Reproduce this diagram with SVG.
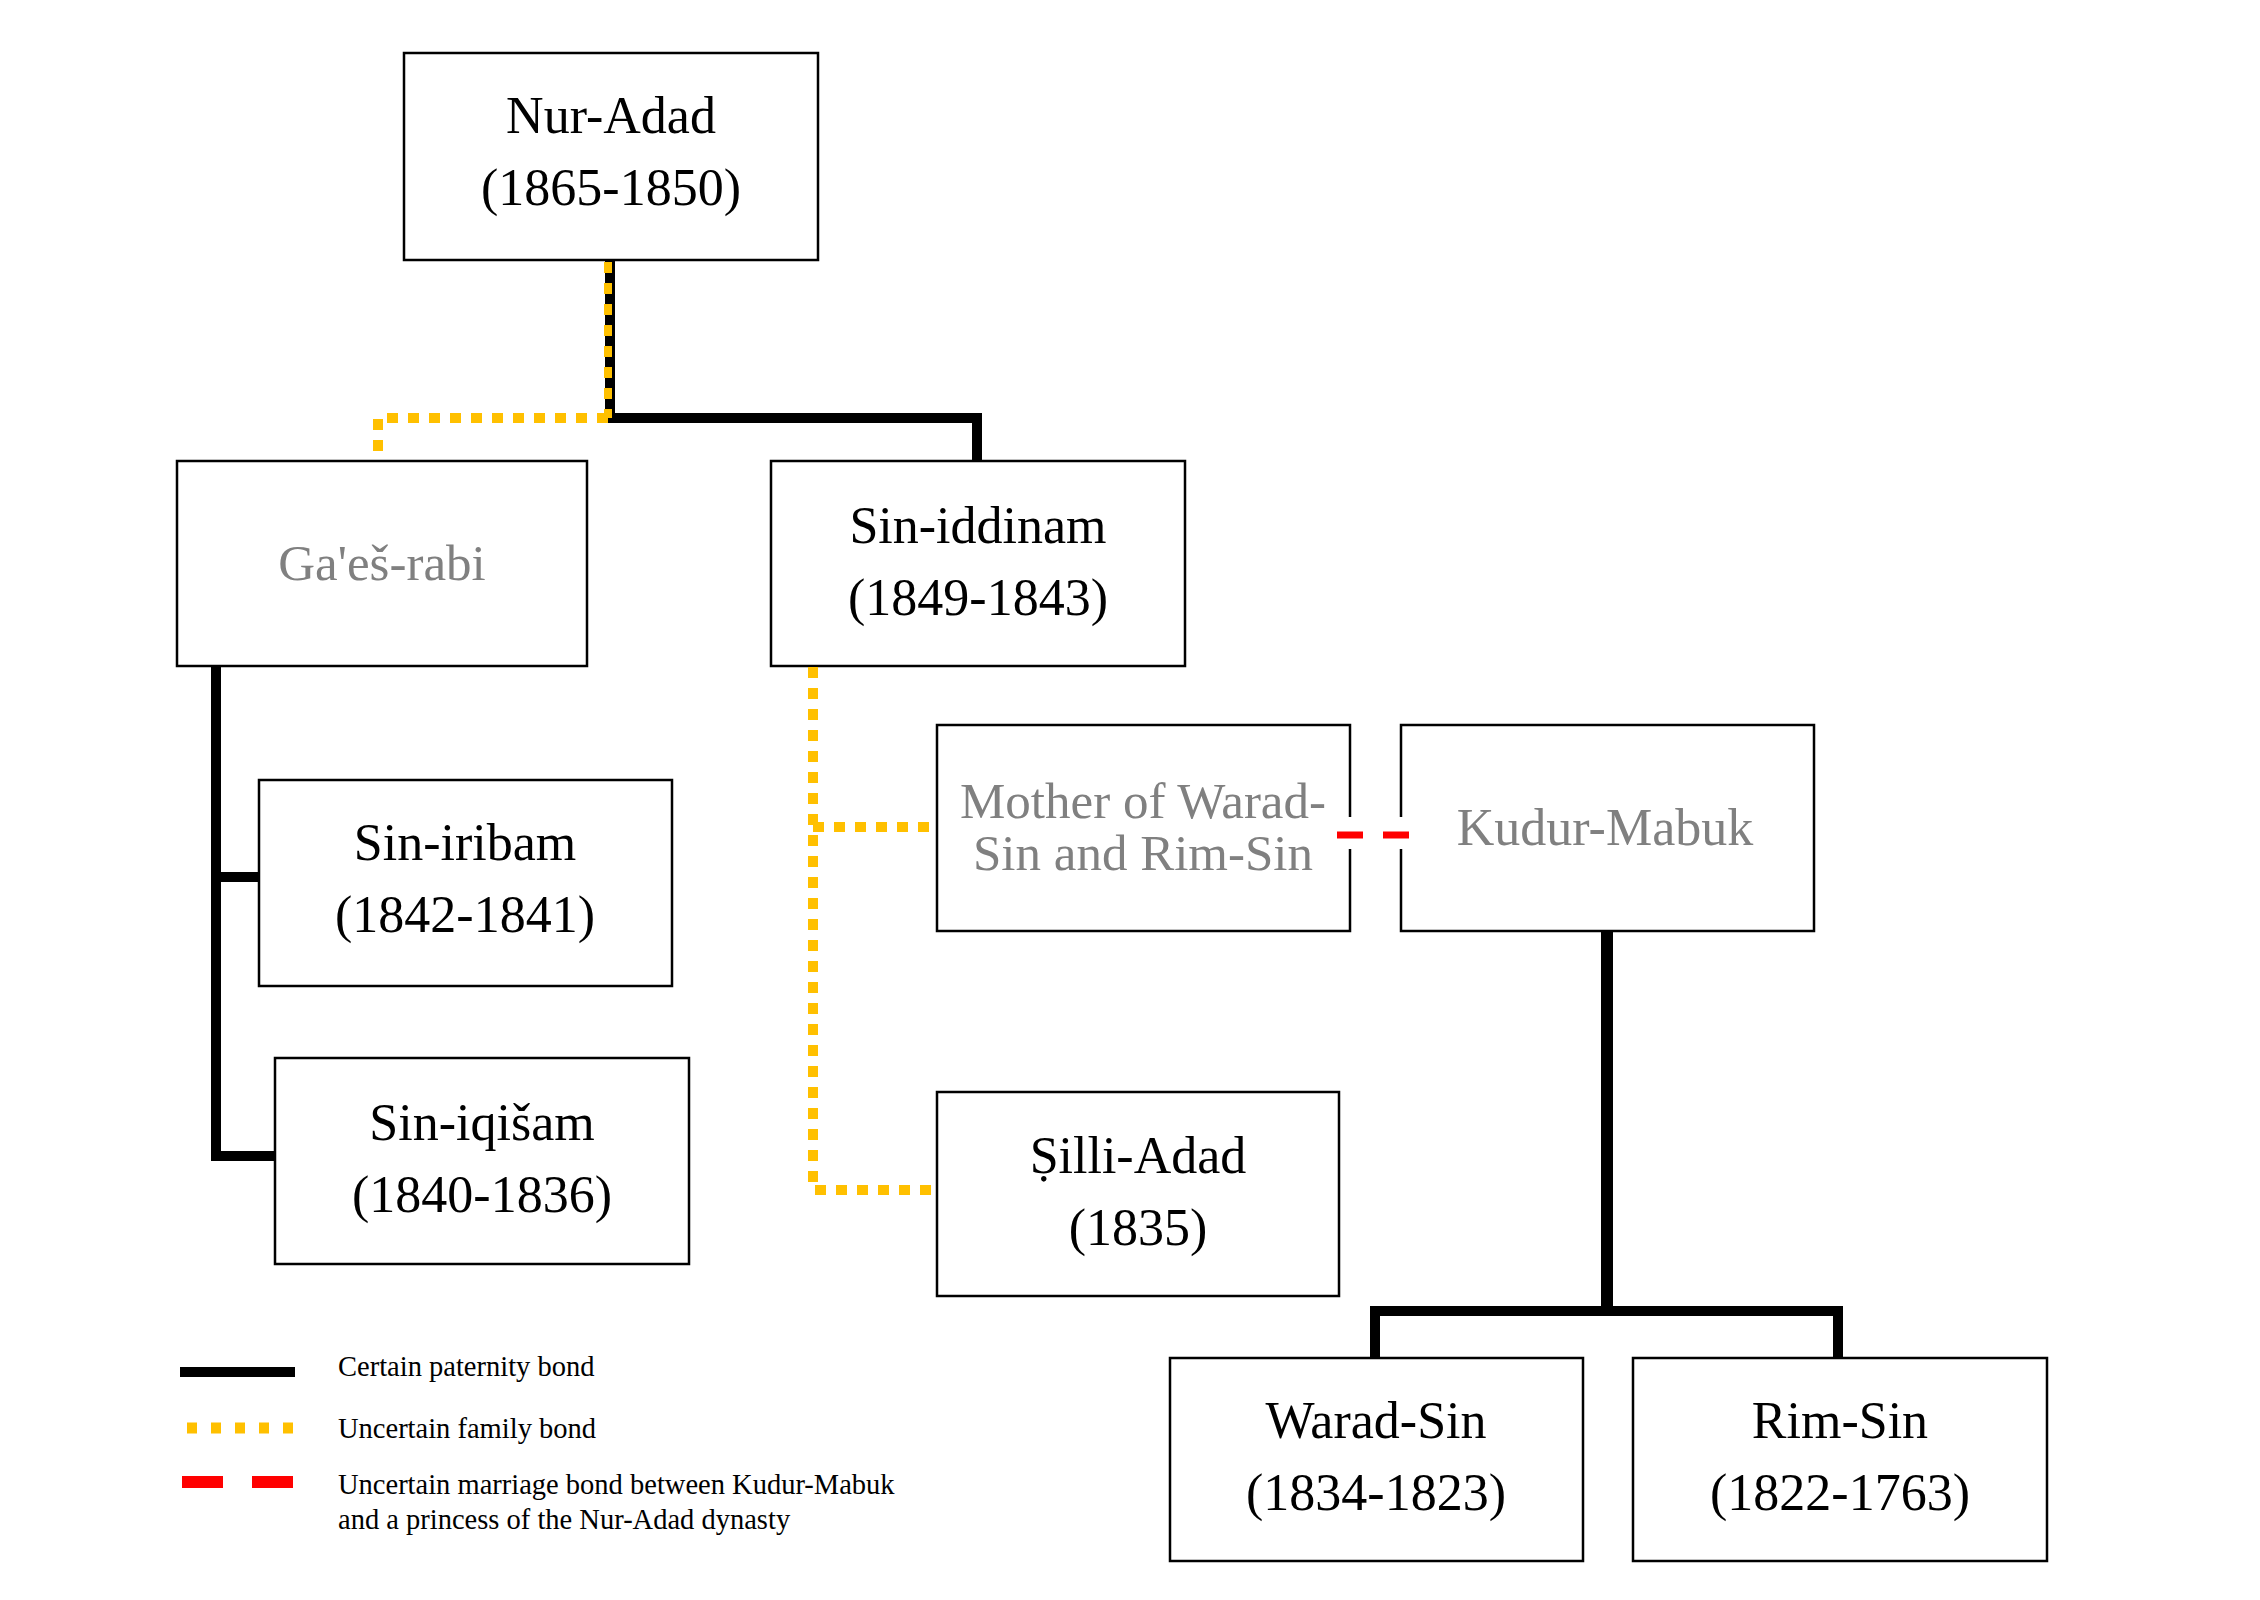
<svg xmlns="http://www.w3.org/2000/svg" width="2260" height="1600" viewBox="0 0 2260 1600">
<style>
.box{fill:#fff;stroke:#000;stroke-width:2.5}
.t{font-family:"Liberation Serif","Times New Roman",serif;font-size:52px;fill:#000;text-anchor:middle}
.g{fill:#808080}
.lg{font-family:"Liberation Serif","Times New Roman",serif;font-size:28.5px;fill:#000}
.certain{fill:none;stroke:#000;stroke-width:10;stroke-linejoin:miter;stroke-linecap:butt}
.uncertain{fill:none;stroke:#FFC000;stroke-width:10;stroke-dasharray:11 10;stroke-linecap:butt}
.marriage{fill:none;stroke:#FF0000;stroke-width:7;stroke-dasharray:26 20}
</style>
<rect width="2260" height="1600" fill="#fff"/>
<g id="nodes">
<g id="nur-adad"><rect class="box" x="404" y="53" width="414" height="207"/><text class="t" x="611" y="133">Nur-Adad</text><text class="t" x="611" y="205">(1865-1850)</text></g>
<g id="gaes-rabi"><rect class="box" x="177" y="461" width="410" height="205"/><text class="t g" x="382" y="580" style="font-size:51px">Ga'eš-rabi</text></g>
<g id="sin-iddinam"><rect class="box" x="771" y="461" width="414" height="205"/><text class="t" x="978" y="543">Sin-iddinam</text><text class="t" x="978" y="615">(1849-1843)</text></g>
<g id="sin-iribam"><rect class="box" x="259" y="780" width="413" height="206"/><text class="t" x="465" y="860">Sin-iribam</text><text class="t" x="465" y="932">(1842-1841)</text></g>
<g id="sin-iqisam"><rect class="box" x="275" y="1058" width="414" height="206"/><text class="t" x="482" y="1140">Sin-iqišam</text><text class="t" x="482" y="1212">(1840-1836)</text></g>
<g id="mother"><rect class="box" x="937" y="725" width="413" height="206"/><text class="t g" x="1143" y="818" style="font-size:51px">Mother of Warad-</text><text class="t g" x="1143" y="870" style="font-size:51px">Sin and Rim-Sin</text></g>
<g id="kudur-mabuk"><rect class="box" x="1401" y="725" width="413" height="206"/><text class="t g" x="1605" y="845">Kudur-Mabuk</text></g>
<g id="silli-adad"><rect class="box" x="937" y="1092" width="402" height="204"/><text class="t" x="1138" y="1173">Ṣilli-Adad</text><text class="t" x="1138" y="1245">(1835)</text></g>
<g id="warad-sin"><rect class="box" x="1170" y="1358" width="413" height="203"/><text class="t" x="1376" y="1438">Warad-Sin</text><text class="t" x="1376" y="1510">(1834-1823)</text></g>
<g id="rim-sin"><rect class="box" x="1633" y="1358" width="414" height="203"/><text class="t" x="1840" y="1438">Rim-Sin</text><text class="t" x="1840" y="1510">(1822-1763)</text></g>
</g>
<g id="connectors">
<path class="certain" d="M610 260 V418 H977 V461"/>
<path class="uncertain" d="M608 262 V418" style="stroke-width:8"/>
<path class="uncertain" d="M608 418 H378 V461"/>
<path class="certain" d="M216 666 V1156 H275"/>
<path class="certain" d="M216 877 H259"/>
<path class="uncertain" d="M813 667 V1190 H937"/>
<path class="uncertain" d="M813 827 H937"/>
<rect x="1336" y="817" width="76" height="32" fill="#fff"/>
<path class="marriage" d="M1337 835 H1410"/>
<path class="certain" d="M1607 931 V1311" style="stroke-width:12"/>
<path class="certain" d="M1375 1358 V1311 H1838 V1358"/>
</g>
<g id="legend">
<path d="M180 1372 H295" stroke="#000" stroke-width="10"/>
<path d="M187 1428 H295" stroke="#FFC000" stroke-width="11" stroke-dasharray="10 14"/>
<path d="M182 1482 H295" stroke="#FF0000" stroke-width="12" stroke-dasharray="41 29"/>
<text class="lg" x="338" y="1376">Certain paternity bond</text>
<text class="lg" x="338" y="1438">Uncertain family bond</text>
<text class="lg" x="338" y="1494">Uncertain marriage bond between Kudur-Mabuk</text>
<text class="lg" x="338" y="1529">and a princess of the Nur-Adad dynasty</text>
</g>
</svg>
